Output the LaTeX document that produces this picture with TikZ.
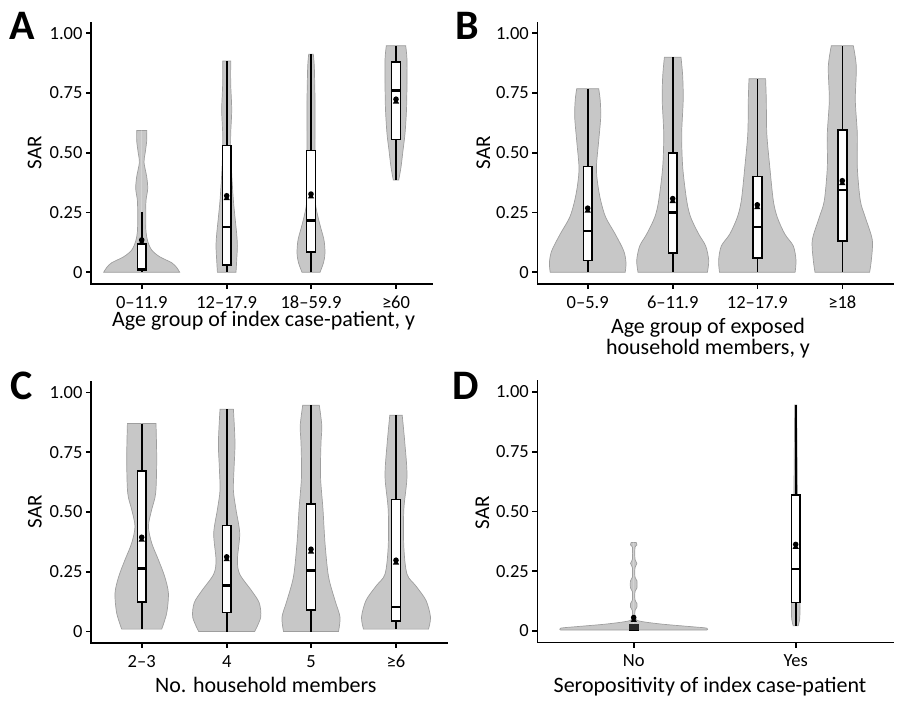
\documentclass[tikz,border=0pt]{standalone}
\usepackage{fontspec}
\setmainfont{Carlito}
\usetikzlibrary{positioning}

% half of a violin, mirrored by \violin
\newcommand{\halfviolin}[3]{%
  \fill[vfill] (0,#1) -- plot[smooth] coordinates {#3} -- (0,#2) -- cycle;
  \draw[vline] (0,#1) -- plot[smooth] coordinates {#3} -- (0,#2);}
\newcommand{\violin}[4]{%
  \begin{scope}[xshift=#1]\halfviolin{#2}{#3}{#4}\end{scope}
  \begin{scope}[xshift=#1, xscale=-1]\halfviolin{#2}{#3}{#4}\end{scope}}
% box: centre, low, q1, median, q3, high, mean
\newcommand{\sarbox}[7]{%
  \draw[whisk] (#1,#2) -- (#1,#6);
  \draw[boxst] ([xshift=-4.4pt]#1,#3) rectangle ([xshift=4.4pt]#1,#5);
  \draw[medst] ([xshift=-4.4pt]#1,#4) -- ([xshift=4.4pt]#1,#4);
  \fill ([yshift=0.8pt]#1,#7) circle[radius=2.8pt];
  \fill ([xshift=-3.2pt,yshift=-3.6pt]#1,#7) -- ([xshift=3.2pt,yshift=-3.6pt]#1,#7) -- ([yshift=1.5pt]#1,#7) -- cycle;}

\begin{document}
\begin{tikzpicture}[
    x=1pt, y=-1pt,
    vfill/.style={fill=black!22},
    vline/.style={draw=black!38, line width=0.7pt},
    whisk/.style={line width=1.6pt},
    boxst/.style={draw=black, fill=white, line width=1.6pt},
    medst/.style={line width=2.7pt},
    axis/.style={line width=1.6pt, line cap=rect},
    ytick/.style={anchor=east, inner sep=0pt, font=\fontsize{18.5}{22}\selectfont},
    xtick/.style={anchor=base, inner sep=0pt, font=\fontsize{18.5}{22}\selectfont},
    ytitle/.style={rotate=90, inner sep=0pt, font=\fontsize{21}{24}\selectfont},
    xtitle/.style={anchor=base, inner sep=0pt, font=\fontsize{22}{24}\selectfont},
    panel/.style={anchor=base west, inner sep=0pt, font=\fontsize{42}{44}\selectfont\bfseries}
]
\useasboundingbox (0,0) rectangle (900,703);

% --- Panel A
\begin{scope}[shift={(0,272.3)}, y=239pt]
  \violin{141.7}{0}{0.593}{(38,0) (35,0.02) (30,0.04) (18,0.065) (10,0.093) (6,0.13) (4.3,0.17) (4,0.23) (4.3,0.30) (6,0.35) (5,0.40) (2.3,0.46) (3.5,0.5) (5,0.55) (5,0.593)}
  \violin{226.7}{0}{0.884}{(9.3,0) (10,0.05) (10.7,0.11) (10,0.16) (8.3,0.23) (6.7,0.30) (5,0.41) (4,0.51) (4,0.58) (5,0.68) (4,0.79) (4,0.884)}
  \violin{311}{0}{0.912}{(9,0) (12.5,0.04) (14,0.08) (13,0.135) (9.5,0.19) (6,0.25) (4.3,0.30) (4,0.44) (4,0.58) (4,0.72) (3.3,0.86) (2.3,0.912)}
  \violin{396}{0.386}{0.948}{(2.7,0.386) (5,0.44) (7,0.51) (9,0.58) (10.5,0.68) (11,0.79) (11,0.89) (9.7,0.948)}
  \sarbox{141.7}{0}{0.007}{0.012}{0.118}{0.254}{0.132}
  \sarbox{226.7}{0}{0.031}{0.19}{0.53}{0.884}{0.317}
  \sarbox{311}{0}{0.084}{0.216}{0.51}{0.912}{0.324}
  \sarbox{396}{0.386}{0.556}{0.762}{0.881}{0.948}{0.721}
  \draw[axis] (91,1.046) -- (91,-0.048) -- (431.7,-0.048);
  \foreach \v/\t [count=\i] in {0/0, 0.25/0.25, 0.5/0.50, 0.75/0.75, 1/1.00}{
    \draw[axis] ([xshift=-4.5pt]91,\v) -- (91,\v);
    \node[ytick] (yA\i) at ([xshift=-8.3pt]91,\v) {\t};}
  \foreach \x/\t [count=\i] in {141.7/0--11.9, 226.7/12--17.9, 311/18--59.9, 396/≥60}{
    \draw[axis] (\x,-0.048) -- ([yshift=-4.5pt]\x,-0.048);
    \node[xtick] (xA\i) at ([yshift=-24.3pt]\x,-0.048) {\t};}
\end{scope}

% --- Panel B
\begin{scope}[shift={(0,272.3)}, y=239pt]
  \violin{587.7}{0}{0.768}{(37.5,0) (38.3,0.04) (36,0.09) (27.5,0.16) (18,0.23) (13,0.30) (10,0.37) (8.7,0.44) (11,0.55) (13,0.65) (12.5,0.72) (11,0.768)}
  \violin{672.7}{0}{0.90}{(34.7,0) (36,0.05) (33,0.11) (26,0.16) (18,0.23) (14,0.30) (10,0.44) (9,0.58) (10.5,0.72) (10,0.82) (8.3,0.90)}
  \violin{757.3}{0}{0.81}{(37.8,0) (38.7,0.05) (36,0.11) (27.5,0.16) (20,0.23) (16,0.30) (12.5,0.44) (9.5,0.58) (9,0.72) (8.3,0.81)}
  \violin{842.3}{0}{0.948}{(27.3,0) (29,0.05) (30,0.135) (23,0.23) (18,0.30) (15,0.44) (15,0.58) (13,0.72) (14,0.86) (11,0.948)}
  \sarbox{587.7}{0}{0.05}{0.173}{0.442}{0.768}{0.265}
  \sarbox{672.7}{0}{0.08}{0.251}{0.50}{0.90}{0.305}
  \sarbox{757.3}{0}{0.061}{0.19}{0.40}{0.81}{0.279}
  \sarbox{842.3}{0}{0.132}{0.344}{0.596}{0.948}{0.38}
  \draw[axis] (537.3,1.046) -- (537.3,-0.048) -- (892.7,-0.048);
  \foreach \v/\t [count=\i] in {0/0, 0.25/0.25, 0.5/0.50, 0.75/0.75, 1/1.00}{
    \draw[axis] ([xshift=-4.5pt]537.3,\v) -- (537.3,\v);
    \node[ytick] (yB\i) at ([xshift=-8.3pt]537.3,\v) {\t};}
  \foreach \x/\t [count=\i] in {587.7/0--5.9, 672.7/6--11.9, 757.3/12--17.9, 842.3/≥18}{
    \draw[axis] (\x,-0.048) -- ([yshift=-4.5pt]\x,-0.048);
    \node[xtick] (xB\i) at ([yshift=-24.3pt]\x,-0.048) {\t};}
\end{scope}

% --- Panel C
\begin{scope}[shift={(0,631.5)}, y=239pt]
  \violin{141.7}{0.01}{0.87}{(20,0.01) (25,0.077) (26.7,0.16) (23,0.23) (16.7,0.30) (10,0.37) (6.7,0.44) (10,0.51) (14,0.58) (15,0.72) (14.3,0.87)}
  \violin{226.7}{0}{0.93}{(28,0) (34,0.06) (32.5,0.12) (25,0.17) (13,0.24) (10.7,0.30) (13,0.41) (9.3,0.51) (6.7,0.59) (7.3,0.68) (8.3,0.79) (6.7,0.93)}
  \violin{311}{0}{0.947}{(27.5,0) (29,0.06) (24,0.13) (17.5,0.23) (14,0.37) (12,0.51) (9.5,0.65) (10,0.79) (10.8,0.86) (8.3,0.947)}
  \violin{396}{0.01}{0.905}{(32.5,0.01) (34.5,0.06) (30,0.13) (20,0.19) (11,0.24) (7.8,0.355) (7.8,0.51) (11,0.65) (8.8,0.79) (6.2,0.905)}
  \sarbox{141.7}{0.01}{0.123}{0.263}{0.671}{0.87}{0.391}
  \sarbox{226.7}{0}{0.079}{0.192}{0.443}{0.93}{0.309}
  \sarbox{311}{0}{0.09}{0.256}{0.533}{0.947}{0.341}
  \sarbox{396}{0.01}{0.045}{0.102}{0.553}{0.905}{0.295}
  \draw[axis] (91,1.046) -- (91,-0.048) -- (446.7,-0.048);
  \foreach \v/\t [count=\i] in {0/0, 0.25/0.25, 0.5/0.50, 0.75/0.75, 1/1.00}{
    \draw[axis] ([xshift=-4.5pt]91,\v) -- (91,\v);
    \node[ytick] (yC\i) at ([xshift=-8.3pt]91,\v) {\t};}
  \foreach \x/\t [count=\i] in {141.7/2--3, 226.7/4, 311/5, 396/≥6}{
    \draw[axis] (\x,-0.048) -- ([yshift=-4.5pt]\x,-0.048);
    \node[xtick] (xC\i) at ([yshift=-25pt]\x,-0.048) {\t};}
\end{scope}

% --- Panel D
\begin{scope}[shift={(0,631)}, y=239pt]
  \violin{633.7}{0.004}{0.37}{(73,0.004) (73,0.012) (55,0.019) (30,0.028) (12,0.037) (3,0.045) (1.3,0.06) (1.3,0.085) (3.2,0.1) (3.2,0.115) (1.3,0.13) (1.3,0.165) (3.2,0.18) (3.2,0.21) (1.3,0.225) (1.3,0.265) (3.2,0.283) (1.3,0.3) (1.3,0.35) (3.2,0.36) (2.5,0.37)}
  \violin{795.7}{0.022}{0.946}{(2.5,0.022) (4,0.05) (4.3,0.1) (4,0.15) (3,0.3) (2,0.5) (1.5,0.7) (1,0.946)}
  \sarbox{633.7}{0.004}{0.004}{0.012}{0.028}{0.028}{0.053}
  \fill[black!85] ([xshift=-5pt]633.7,0.004) rectangle ([xshift=5pt]633.7,0.028);
  \sarbox{795.7}{0.022}{0.12}{0.26}{0.57}{0.946}{0.359}
  \draw[axis] (537.3,1.046) -- (537.3,-0.048) -- (892.7,-0.048);
  \foreach \v/\t [count=\i] in {0/0, 0.25/0.25, 0.5/0.50, 0.75/0.75, 1/1.00}{
    \draw[axis] ([xshift=-4.5pt]537.3,\v) -- (537.3,\v);
    \node[ytick] (yD\i) at ([xshift=-8.3pt]537.3,\v) {\t};}
  \foreach \x/\t [count=\i] in {633.7/No, 795.7/Yes}{
    \draw[axis] (\x,-0.048) -- ([yshift=-4.5pt]\x,-0.048);
    \node[xtick] (xD\i) at ([yshift=-24.3pt]\x,-0.048) {\t};}
\end{scope}

% --- Titles and panel letters
\node[panel] (labA) at (9,39.3) {A};
\node[panel] (labB) at (455,39.3) {B};
\node[panel] (labC) at (10,399.3) {C};
\node[panel] (labD) at (452.7,399.3) {D};

\node[ytitle] (sarA) at (34.7,152.8) {SAR};
\node[ytitle] (sarB) at (483.3,152.8) {SAR};
\node[ytitle] (sarC) at (35,511.7) {SAR};
\node[ytitle] (sarD) at (482.3,512.5) {SAR};

\node[xtitle] (titA) at (263.7,327) {Age group of index case-patient, y};
\node[xtitle] (titB1) at (708,334) {Age group of exposed};
\node[xtitle] (titB2) at (708,355) {household members, y};
\node[xtitle] (titC) at (265.8,692.3) {No. household members};
\node[xtitle] (titD) at (710,692.3) {Seropositivity of index case-patient};

\end{tikzpicture}
\end{document}
